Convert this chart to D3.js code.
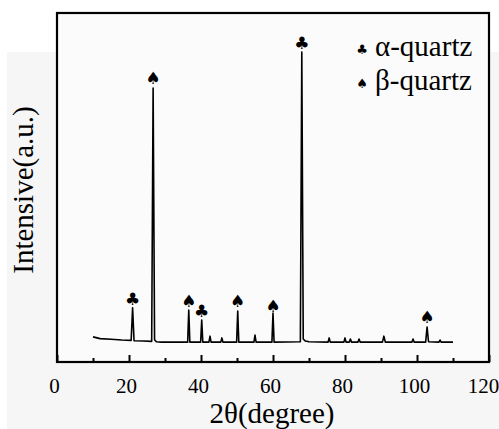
<!DOCTYPE html>
<html><head><meta charset="utf-8">
<script src="https://cdn.jsdelivr.net/npm/d3@7"></script>
</head><body style="margin:0">
<svg id="c" width="499" height="429" style="display:block"></svg>
<script>
// XRD pattern points [2θ, intensity]
const twoTheta = [10,12,15,18,20.6,21.0,21.4,24,26.3,26.7,27.1,27.6,29,33,36.3,36.6,36.9,39.9,40.2,40.5,42.2,42.5,42.8,45.5,45.8,46.1,49.9,50.2,50.5,54.7,55.0,55.3,59.7,60.0,60.3,67.6,68.0,68.4,69,70,75.3,75.6,75.9,79.7,80,80.3,81.2,81.5,81.8,83.6,83.9,84.2,90.4,90.8,91.2,98.6,98.9,99.2,102.4,102.8,103.2,106.1,106.4,106.7,110];
const intensity = [72,67,65,63,62,155,61,60,59,785,64,58,57,57,57,149,57,57,120,57,57,74,57,57,69,57,57,146,57,57,77,57,57,140,57,58,888,66,60,58,57,69,57,57,69,57,57,66,57,57,66,57,57,74,57,57,66,57,57,100,58,57,63,57,57];
// phase markers
const markerX = [21.0,26.7,36.6,40.2,50.2,60.0,68.0,102.8];
const markerY = [180,814,175,146,175,160,914,129];
const markerPhase = ["alpha","beta","beta","alpha","beta","beta","alpha","beta"];
const legendLabels = ["α-quartz","β-quartz"];
const legendPhases = ["alpha","beta"];
const xTicks = [0,20,40,60,80,100,120];
const xMinor = [10,30,50,70,90,110];
const symbol = {alpha:"\u2663", beta:"\u2660"};
const SERIF = "Times New Roman";

const svg = d3.select("#c");
const L=57,R=489,T=13,B=362;
svg.append("rect").attr("x",7).attr("y",52).attr("width",492).attr("height",377).attr("fill","#f6f6f6");
svg.append("rect").attr("x",L).attr("y",T).attr("width",R-L).attr("height",B-T).attr("fill","#fbfbfb");

const x = d3.scaleLinear().domain([0,120]).range([L,R]);
const y = d3.scaleLinear().domain([0,1000]).range([B,T]);
const pts = twoTheta.map((t,i)=>[t,intensity[i]]);

svg.append("path").datum(pts)
  .attr("d", d3.line().x(d=>x(d[0])).y(d=>y(d[1])))
  .attr("fill","none").attr("stroke","#000").attr("stroke-width",1.6).attr("stroke-linejoin","round");

// axis (ticks inward)
const ax = svg.append("g").attr("transform",`translate(0,${B})`)
  .call(d3.axisBottom(x).tickValues(xTicks).tickSize(-7).tickPadding(16).tickFormat(d3.format("d")));
ax.attr("font-family",SERIF).attr("font-size",21);
ax.select(".domain").remove();
ax.selectAll(".tick line").attr("stroke-width",2);
ax.selectAll(".tick text").attr("fill","#000").attr("dx",d=>d===120?-6:-3);
const axm = svg.append("g").attr("transform",`translate(0,${B})`)
  .call(d3.axisBottom(x).tickValues(xMinor).tickSize(-4).tickFormat(""));
axm.select(".domain").remove();
axm.selectAll(".tick line").attr("stroke-width",2);

// frame
svg.append("rect").attr("x",L).attr("y",T).attr("width",R-L).attr("height",B-T)
  .attr("fill","none").attr("stroke","#000").attr("stroke-width",2.2);

// markers
svg.append("g").selectAll("text").data(markerX).join("text")
  .attr("x",d=>x(d)).attr("y",(d,i)=>y(markerY[i]))
  .attr("text-anchor","middle").attr("dominant-baseline","central")
  .attr("font-family","DejaVu Sans").attr("font-size",17)
  .text((d,i)=>symbol[markerPhase[i]]);

// legend
const lg = svg.append("g");
legendLabels.forEach((lab,i)=>{
  const by = 56 + i*34;
  lg.append("text").attr("x",362).attr("y",by-7).attr("text-anchor","middle").attr("dominant-baseline","central")
    .attr("font-family","DejaVu Sans").attr("font-size",13).text(symbol[legendPhases[i]]);
  lg.append("text").attr("x",375).attr("y",by)
    .attr("font-family",SERIF).attr("font-size",29).text(lab);
});

// titles
svg.append("text").attr("x",272).attr("y",423).attr("text-anchor","middle")
  .attr("font-family",SERIF).attr("font-size",29).text("2θ(degree)");
svg.append("text").attr("transform","translate(33,190) rotate(-90)").attr("text-anchor","middle")
  .attr("font-family",SERIF).attr("font-size",29).text("Intensive(a.u.)");
</script>
</body></html>
